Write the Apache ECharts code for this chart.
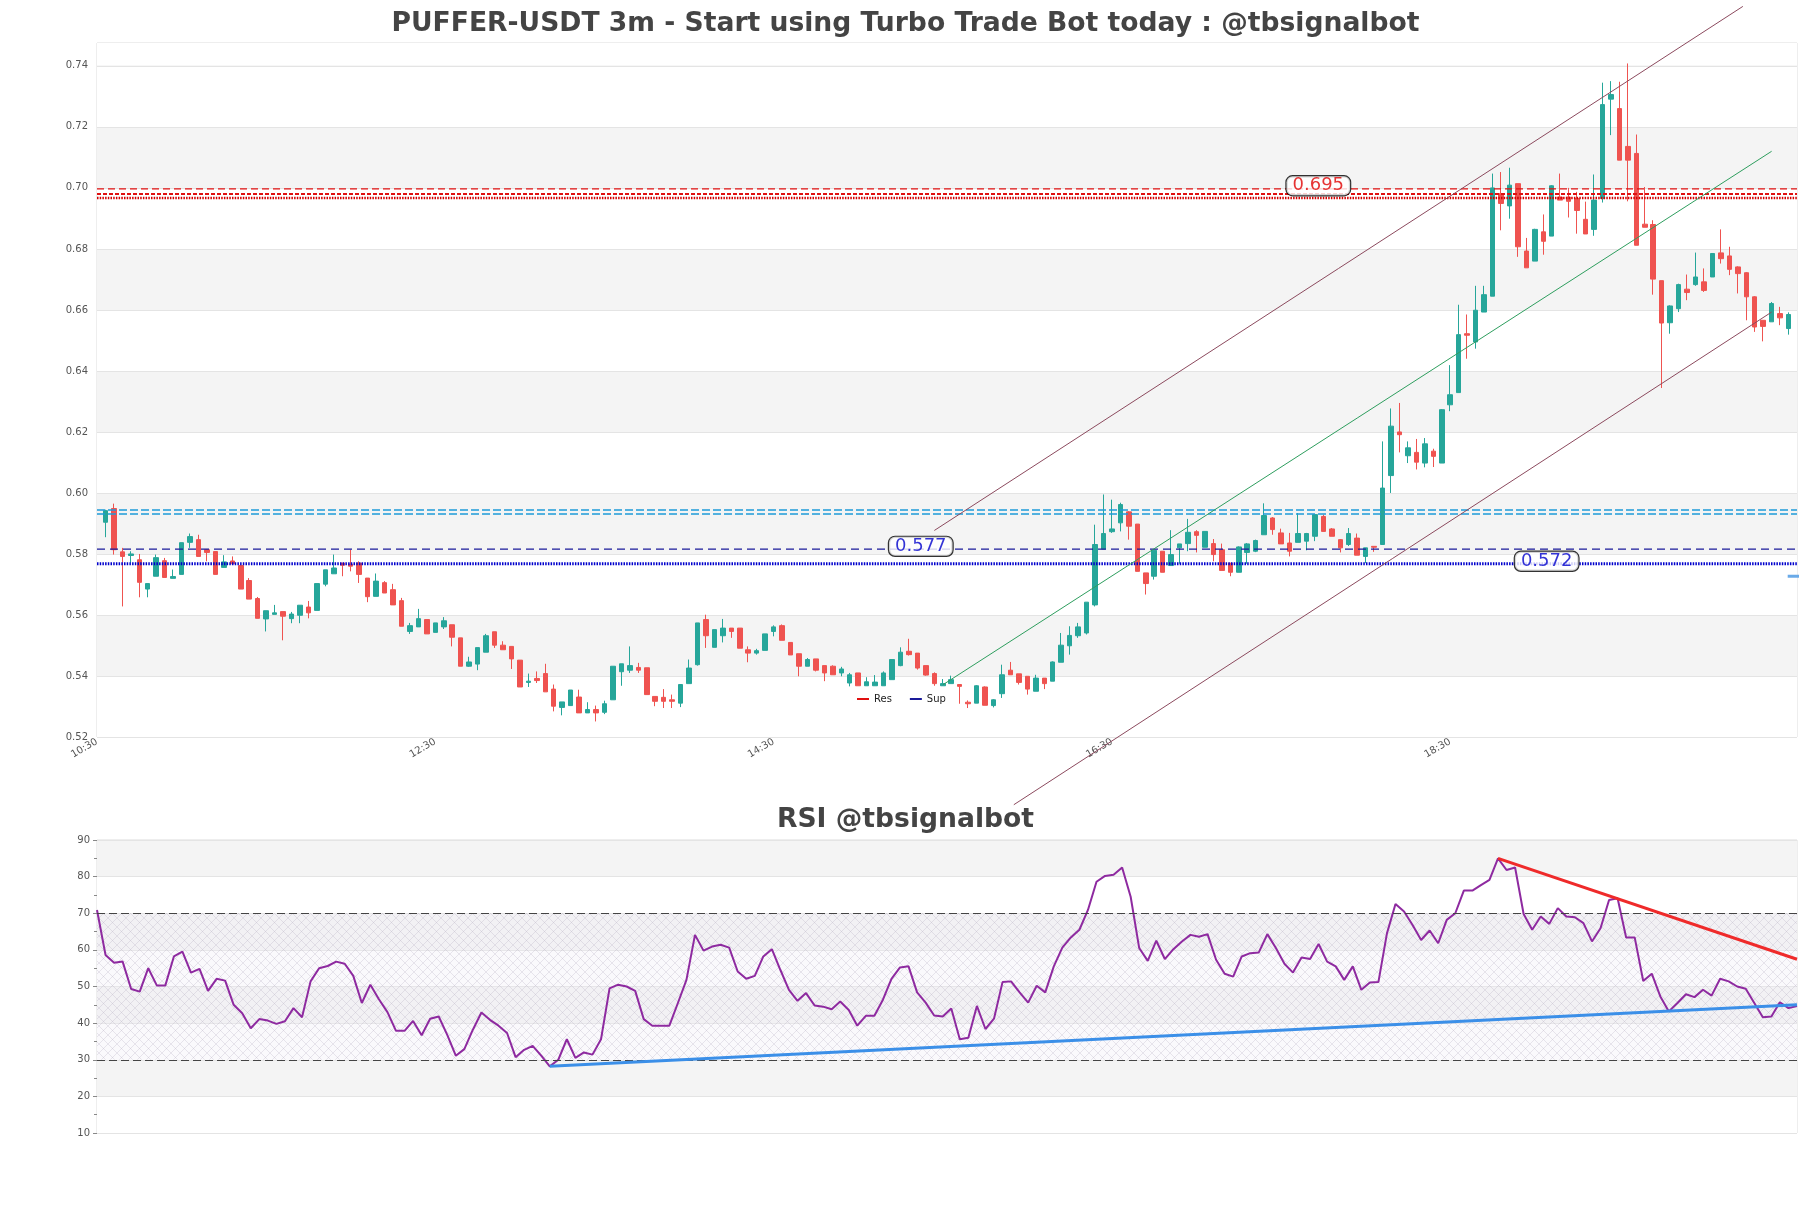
<!DOCTYPE html>
<html>
<head>
<meta charset="utf-8">
<script src="https://cdn.jsdelivr.net/npm/echarts@6/dist/echarts.min.js"></script>
<style>
  html, body { margin: 0; padding: 0; background: #fff; }
  #chart { width: 1811px; height: 1208px; }
</style>
</head>
<body>
<div id="chart"></div>
<script>
// 蜡烛数据 (3m, 从 10:33 开始)
let opens = [0.5904,0.5949,0.5807,0.5795,0.5781,0.5685,0.5727,0.5778,0.5720,0.5733,
  0.5838,0.5847,0.5814,0.5808,0.5756,0.5777,0.5762,0.5713,0.5654,0.5587,
  0.5602,0.5611,0.5588,0.5599,0.5626,0.5615,0.5701,0.5735,0.5770,0.5767,
  0.5770,0.5721,0.5661,0.5706,0.5683,0.5647,0.5546,0.5561,0.5585,0.5543,
  0.5561,0.5568,0.5525,0.5432,0.5439,0.5478,0.5545,0.5501,0.5497,0.5452,
  0.5379,0.5392,0.5408,0.5357,0.5297,0.5303,0.5331,0.5279,0.5290,0.5281,
  0.5322,0.5414,0.5419,0.5428,0.5427,0.5333,0.5330,0.5322,0.5311,0.5375,
  0.5437,0.5585,0.5494,0.5532,0.5557,0.5557,0.5486,0.5475,0.5484,0.5546,
  0.5565,0.5510,0.5473,0.5432,0.5456,0.5434,0.5432,0.5410,0.5377,0.5410,
  0.5368,0.5368,0.5368,0.5388,0.5434,0.5481,0.5475,0.5434,0.5408,0.5368,
  0.5375,0.5372,0.5314,0.5311,0.5364,0.5303,0.5342,0.5419,0.5407,0.5399,
  0.5350,0.5393,0.5383,0.5445,0.5499,0.5532,0.5541,0.5633,0.5816,0.5873,
  0.5902,0.5938,0.5898,0.5738,0.5727,0.5809,0.5762,0.5820,0.5834,0.5873,
  0.5822,0.5834,0.5814,0.5770,0.5740,0.5805,0.5809,0.5863,0.5918,0.5869,
  0.5836,0.5838,0.5842,0.5858,0.5923,0.5882,0.5847,0.5831,0.5852,0.5792,
  0.5825,0.5831,0.6057,0.6200,0.6122,0.6133,0.6098,0.6137,0.6098,0.6289,
  0.6329,0.6522,0.6495,0.6593,0.6645,0.6981,0.6941,0.7014,0.6793,0.6760,
  0.6856,0.6842,0.6970,0.6970,0.6965,0.6897,0.6864,0.6965,0.7291,0.7260,
  0.7136,0.7113,0.6881,0.6880,0.6696,0.6558,0.6604,0.6668,0.6683,0.6692,
  0.6708,0.6787,0.6777,0.6741,0.6722,0.6643,0.6566,0.6561,0.6588,0.6539];
let closes = [0.5942,0.5814,0.5792,0.5800,0.5707,0.5703,0.5788,0.5723,0.5726,0.5837,
  0.5857,0.5792,0.5805,0.5733,0.5774,0.5768,0.5685,0.5652,0.5589,0.5614,
  0.5607,0.5596,0.5603,0.5632,0.5607,0.5703,0.5748,0.5754,0.5763,0.5760,
  0.5733,0.5660,0.5711,0.5672,0.5633,0.5563,0.5565,0.5588,0.5538,0.5574,
  0.5581,0.5527,0.5432,0.5446,0.5493,0.5532,0.5501,0.5486,0.5456,0.5364,
  0.5383,0.5385,0.5348,0.5301,0.5315,0.5354,0.5279,0.5290,0.5279,0.5309,
  0.5432,0.5440,0.5434,0.5419,0.5339,0.5317,0.5317,0.5317,0.5372,0.5426,
  0.5574,0.5532,0.5552,0.5557,0.5546,0.5491,0.5475,0.5483,0.5538,0.5561,
  0.5517,0.5469,0.5432,0.5454,0.5419,0.5410,0.5404,0.5423,0.5404,0.5368,
  0.5381,0.5380,0.5410,0.5454,0.5478,0.5470,0.5426,0.5403,0.5375,0.5375,
  0.5388,0.5366,0.5309,0.5368,0.5304,0.5322,0.5404,0.5404,0.5379,0.5357,
  0.5393,0.5375,0.5446,0.5501,0.5533,0.5561,0.5642,0.5831,0.5867,0.5882,
  0.5962,0.5891,0.5743,0.5703,0.5812,0.5740,0.5798,0.5833,0.5871,0.5861,
  0.5874,0.5798,0.5746,0.5740,0.5823,0.5833,0.5844,0.5926,0.5880,0.5833,
  0.5809,0.5867,0.5867,0.5929,0.5874,0.5858,0.5820,0.5867,0.5796,0.5820,
  0.5822,0.6016,0.6219,0.6191,0.6148,0.6101,0.6161,0.6120,0.6273,0.6322,
  0.6519,0.6517,0.6599,0.6650,0.7000,0.6949,0.7009,0.6807,0.6738,0.6864,
  0.6825,0.7007,0.6960,0.6956,0.6926,0.6849,0.6960,0.7273,0.7306,0.7091,
  0.7091,0.6812,0.6871,0.6701,0.6557,0.6613,0.6683,0.6657,0.6708,0.6664,
  0.6785,0.6768,0.6733,0.6719,0.6643,0.6544,0.6546,0.6621,0.6574,0.6585];
let lows = [0.5855,0.5798,0.5628,0.5771,0.5658,0.5658,0.5727,0.5723,0.5720,0.5733,
  0.5820,0.5792,0.5776,0.5733,0.5756,0.5768,0.5685,0.5652,0.5589,0.5546,
  0.5602,0.5517,0.5573,0.5573,0.5589,0.5615,0.5694,0.5735,0.5727,0.5743,
  0.5705,0.5642,0.5661,0.5672,0.5633,0.5563,0.5538,0.5561,0.5538,0.5543,
  0.5554,0.5497,0.5432,0.5430,0.5419,0.5478,0.5492,0.5486,0.5423,0.5364,
  0.5364,0.5377,0.5348,0.5284,0.5271,0.5303,0.5279,0.5279,0.5251,0.5275,
  0.5322,0.5368,0.5410,0.5410,0.5339,0.5301,0.5295,0.5295,0.5298,0.5375,
  0.5434,0.5492,0.5494,0.5510,0.5525,0.5491,0.5445,0.5470,0.5484,0.5530,
  0.5517,0.5469,0.5399,0.5432,0.5415,0.5383,0.5404,0.5399,0.5366,0.5368,
  0.5368,0.5368,0.5368,0.5388,0.5432,0.5467,0.5421,0.5401,0.5368,0.5368,
  0.5375,0.5309,0.5295,0.5311,0.5304,0.5297,0.5328,0.5404,0.5372,0.5339,
  0.5350,0.5357,0.5383,0.5445,0.5470,0.5525,0.5536,0.5628,0.5816,0.5869,
  0.5874,0.5847,0.5743,0.5667,0.5716,0.5740,0.5762,0.5768,0.5809,0.5805,
  0.5822,0.5776,0.5746,0.5727,0.5740,0.5768,0.5806,0.5863,0.5863,0.5833,
  0.5792,0.5838,0.5812,0.5842,0.5874,0.5858,0.5805,0.5826,0.5796,0.5770,
  0.5807,0.5831,0.6000,0.6133,0.6098,0.6077,0.6084,0.6085,0.6098,0.6268,
  0.6329,0.6440,0.6473,0.6593,0.6645,0.6861,0.6899,0.6774,0.6738,0.6760,
  0.6781,0.6842,0.6960,0.6903,0.6850,0.6849,0.6843,0.6952,0.7173,0.7091,
  0.6956,0.6812,0.6871,0.6650,0.6344,0.6522,0.6593,0.6632,0.6679,0.6659,
  0.6708,0.6752,0.6714,0.6654,0.6566,0.6528,0.6497,0.6561,0.6550,0.6519];
let highs = [0.5945,0.5965,0.5820,0.5809,0.5800,0.5703,0.5798,0.5787,0.5749,0.5837,
  0.5867,0.5863,0.5816,0.5808,0.5796,0.5792,0.5762,0.5721,0.5659,0.5614,
  0.5633,0.5611,0.5610,0.5632,0.5646,0.5703,0.5748,0.5798,0.5770,0.5814,
  0.5776,0.5721,0.5736,0.5711,0.5702,0.5656,0.5574,0.5620,0.5585,0.5574,
  0.5593,0.5568,0.5525,0.5463,0.5493,0.5538,0.5545,0.5514,0.5497,0.5452,
  0.5408,0.5415,0.5440,0.5372,0.5315,0.5354,0.5355,0.5314,0.5303,0.5319,
  0.5432,0.5440,0.5497,0.5443,0.5427,0.5333,0.5357,0.5339,0.5372,0.5454,
  0.5574,0.5601,0.5552,0.5587,0.5557,0.5557,0.5497,0.5489,0.5538,0.5566,
  0.5569,0.5510,0.5473,0.5459,0.5456,0.5434,0.5435,0.5430,0.5410,0.5410,
  0.5396,0.5403,0.5415,0.5454,0.5494,0.5522,0.5475,0.5434,0.5412,0.5390,
  0.5401,0.5372,0.5320,0.5370,0.5366,0.5324,0.5437,0.5446,0.5407,0.5399,
  0.5404,0.5393,0.5448,0.5541,0.5563,0.5574,0.5642,0.5896,0.5995,0.5978,
  0.5968,0.5940,0.5898,0.5738,0.5816,0.5809,0.5878,0.5833,0.5915,0.5878,
  0.5874,0.5849,0.5834,0.5770,0.5825,0.5836,0.5847,0.5966,0.5921,0.5883,
  0.5869,0.5934,0.5869,0.5931,0.5929,0.5885,0.5849,0.5885,0.5867,0.5820,
  0.5825,0.6169,0.6277,0.6295,0.6169,0.6177,0.6180,0.6145,0.6275,0.6419,
  0.6617,0.6585,0.6679,0.6679,0.7047,0.7052,0.7066,0.7014,0.6836,0.6866,
  0.6913,0.7009,0.7047,0.7000,0.6987,0.6955,0.7044,0.7345,0.7350,0.7348,
  0.7408,0.7175,0.7003,0.6894,0.6696,0.6615,0.6686,0.6716,0.6788,0.6736,
  0.6785,0.6864,0.6807,0.6743,0.6724,0.6645,0.6566,0.6626,0.6610,0.6592];

// RSI 数值
let rsiValues = [70.9,58.6,56.5,56.8,49.3,48.6,55.0,50.3,50.3,58.2,
  59.5,53.8,54.8,48.8,52.1,51.6,45.0,42.7,38.6,41.1,
  40.7,39.8,40.5,44.1,41.6,51.4,55.0,55.6,56.8,56.2,
  52.9,45.5,50.5,46.5,43.0,37.9,37.9,40.6,36.7,41.2,
  41.8,36.8,31.1,32.9,38.2,42.9,40.9,39.3,37.3,30.7,
  32.7,33.8,31.1,28.2,30.0,35.6,30.5,32.0,31.4,35.6,
  49.5,50.5,50.0,48.8,41.1,39.3,39.3,39.3,45.5,51.8,
  64.1,59.8,60.9,61.4,60.6,54.1,52.1,52.9,58.2,60.2,
  54.5,49.1,46.1,48.2,44.8,44.5,43.8,45.9,43.6,39.3,
  42.0,42.0,46.4,52.1,55.2,55.5,48.4,45.6,42.1,41.8,
  44.0,35.6,36.0,44.7,38.4,41.2,51.2,51.4,48.4,45.6,
  50.2,48.4,55.5,60.6,63.4,65.5,70.9,78.6,80.2,80.5,
  82.5,74.5,60.5,57.0,62.5,57.5,60.2,62.3,64.1,63.6,
  64.3,57.3,53.5,52.7,58.2,59.1,59.3,64.3,60.5,56.2,
  53.8,57.9,57.5,61.6,56.8,55.5,51.8,55.5,49.1,51.1,
  51.2,64.5,72.5,70.5,66.8,62.7,65.3,61.8,68.2,70.0,
  76.2,76.2,77.7,79.1,85.0,81.8,82.5,69.8,65.5,69.1,
  67.1,71.4,69.1,68.9,67.3,62.3,65.9,73.6,74.1,63.4,
  63.4,51.5,53.5,47.3,43.2,45.5,47.9,47.1,49.1,47.5,
  52.1,51.4,50.0,49.4,45.5,41.6,41.8,45.7,44.1,44.7];

// x 轴刻度 (每 40 根一个)
let tickLabels = ['10:30', '12:30', '14:30', '16:30', '18:30'];

// 水平支撑/阻力位
let resLines = [0.6997, 0.6980, 0.6967];
let cyanLines = [0.5944, 0.5931];
let supDashed = 0.5816;
let supDotted = 0.5768;
let projLine = [[199.9, 0.5727], [202.1, 0.5727]];

// 价格标签
let tagTexts = ['0.695', '0.577', '0.572'];
let tagX = [144.4, 97.4, 171.4];
let tagY = [0.7007, 0.5825, 0.5776];

// 通道线
let channelUpper = [[99, 0.5877], [194.6, 0.7595]];
let channelLower = [[108.4, 0.4978], [198, 0.6593]];
let channelMid = [[100, 0.5371], [198, 0.712]];

// RSI 趋势线
let rsiSupport = [[53, 28.2], [199, 45.0]];
let rsiResist = [[164, 85.0], [199, 57.45]];

let font = 'DejaVu Sans';

// 蜡烛 [x, open, close, low, high]
let candles = opens.map(function(o, i) {
  return [i + 1, o, closes[i], lows[i], highs[i]];
});
let rsiData = rsiValues.map(function(v, i) { return [i, v]; });

function hline(v, xmax) {
  return [[0, v], [xmax, v]];
}

// 交叉阴影图案
function hatch() {
  let c = document.createElement('canvas');
  c.width = 9;
  c.height = 9;
  let ctx = c.getContext('2d');
  ctx.fillStyle = 'rgba(240,236,244,0.3)';
  ctx.fillRect(0, 0, 9, 9);
  ctx.strokeStyle = 'rgba(170,160,180,0.35)';
  ctx.lineWidth = 0.7;
  ctx.beginPath();
  ctx.moveTo(0, 0); ctx.lineTo(9, 9);
  ctx.moveTo(9, 0); ctx.lineTo(0, 9);
  ctx.stroke();
  return c;
}

function lineSeries(name, data, color, width, type, extra) {
  let s = {
    name: name,
    type: 'line',
    data: data,
    symbol: 'none',
    silent: true,
    clip: false,
    lineStyle: { color: color, width: width, type: type },
    itemStyle: { color: color },
    z: 3
  };
  return Object.assign(s, extra || {});
}

let chartDom = document.getElementById('chart');
let mycharts = echarts.init(chartDom);
let option;

let tagData = tagTexts.map(function(t, i) {
  return {
    value: [tagX[i], tagY[i], t],
    label: { color: i === 0 ? '#e00000' : '#0000cc' }
  };
});

let series = [
  {
    name: 'price',
    type: 'candlestick',
    data: candles,
    encode: { x: 0, y: [1, 2, 3, 4] },
    barWidth: 5,
    itemStyle: {
      color: '#26a69a',
      color0: '#ef5350',
      borderColor: '#26a69a',
      borderColor0: '#ef5350',
      borderWidth: 1
    },
    z: 2,
    // 顶部空白带
    markArea: {
      silent: true,
      itemStyle: { color: '#fff' },
      data: [[{ yAxis: 0.7402 }, { yAxis: 0.7475 }]]
    }
  },
  lineSeries('Res', hline(resLines[0], 201), '#e01010', 1.3, [7, 4]),
  lineSeries('res2', hline(resLines[1], 201), '#e01010', 2, [4, 2]),
  lineSeries('res3', hline(resLines[2], 201), '#d40000', 2.5, [1.5, 1.2]),
  lineSeries('cy1', hline(cyanLines[0], 201), '#1e9ad8', 1.5, [8, 3]),
  lineSeries('cy2', hline(cyanLines[1], 201), '#1e9ad8', 1.5, [8, 3]),
  lineSeries('Sup', hline(supDashed, 201), '#1a1a9a', 1.3, [8, 5]),
  lineSeries('sup2', hline(supDotted, 201), '#0000cc', 2.8, [1.5, 1.2]),
  lineSeries('proj', projLine, '#6aaae8', 3, 'solid'),
  lineSeries('chUp', channelUpper, '#8c4a5e', 1, 'solid'),
  lineSeries('chLow', channelLower, '#8c4a5e', 1, 'solid'),
  lineSeries('chMid', channelMid, '#2e9e5e', 1, 'solid'),
  {
    name: 'tags',
    type: 'scatter',
    data: tagData,
    symbolSize: 0,
    silent: true,
    z: 10,
    label: {
      show: true,
      position: 'inside',
      formatter: function(p) { return p.value[2]; },
      fontFamily: font,
      fontSize: 18,
      backgroundColor: '#fff',
      borderColor: '#000',
      borderWidth: 1.2,
      borderRadius: 6,
      padding: [1, 6, 0, 6]
    }
  },
  {
    name: 'RSI',
    type: 'line',
    xAxisIndex: 1,
    yAxisIndex: 1,
    data: rsiData,
    symbol: 'none',
    lineStyle: { color: '#8e2aa0', width: 2 },
    z: 4,
    markArea: {
      silent: true,
      itemStyle: { color: { image: hatch(), repeat: 'repeat' } },
      data: [[{ yAxis: 30 }, { yAxis: 70 }]]
    },
    markLine: {
      silent: true,
      symbol: 'none',
      label: { show: false },
      lineStyle: { color: '#444', type: [8, 4], width: 1.2 },
      data: [{ yAxis: 70 }, { yAxis: 30 }]
    }
  },
  lineSeries('rsiSup', rsiSupport, '#3b8fe8', 3, 'solid', { xAxisIndex: 1, yAxisIndex: 1, clip: true, z: 5 }),
  lineSeries('rsiRes', rsiResist, '#ef2a2a', 3, 'solid', { xAxisIndex: 1, yAxisIndex: 1, clip: true, z: 5 })
];

option = {
  animation: false,
  backgroundColor: '#fff',
  title: [
    {
      text: 'PUFFER-USDT 3m - Start using Turbo Trade Bot today : @tbsignalbot',
      left: 'center',
      top: 6,
      textStyle: { fontFamily: font, fontSize: 26.6, fontWeight: 'bold', color: '#444' }
    },
    {
      text: 'RSI @tbsignalbot',
      left: 'center',
      top: 802,
      textStyle: { fontFamily: font, fontSize: 26.6, fontWeight: 'bold', color: '#444' }
    }
  ],
  legend: {
    data: ['Res', 'Sup'],
    left: 852,
    top: 689,
    icon: 'rect',
    itemWidth: 12,
    itemHeight: 2,
    itemGap: 18,
    textStyle: { fontFamily: font, fontSize: 10, color: '#222' }
  },
  grid: [
    { left: 97, right: 14, top: 43, height: 694, show: true, borderColor: '#ddd', borderWidth: 1 },
    { left: 97, right: 14, top: 840, height: 293, show: true, borderColor: '#ddd', borderWidth: 1 }
  ],
  xAxis: [
    {
      type: 'value',
      gridIndex: 0,
      min: 0,
      max: 201,
      interval: 40,
      axisLine: { show: false },
      axisTick: { show: false },
      splitLine: { show: false },
      axisLabel: {
        rotate: 30,
        margin: 4,
        fontFamily: font,
        fontSize: 10,
        color: '#555',
        showMaxLabel: false,
        formatter: function(v) { return tickLabels[v / 40] || ''; }
      }
    },
    {
      type: 'value',
      gridIndex: 1,
      min: 0,
      max: rsiValues.length - 1,
      show: false,
      splitLine: { show: false }
    }
  ],
  yAxis: [
    {
      type: 'value',
      gridIndex: 0,
      min: 0.52,
      max: 0.7475,
      interval: 0.02,
      axisLine: { show: false },
      axisTick: { show: false },
      splitLine: { lineStyle: { color: '#e4e4e4' } },
      splitArea: { show: true, areaStyle: { color: ['#ffffff', '#f4f4f4'] } },
      axisLabel: {
        margin: 9,
        fontFamily: font,
        fontSize: 10,
        color: '#555',
        showMaxLabel: false,
        formatter: function(v) { return v.toFixed(2); }
      }
    },
    {
      type: 'value',
      gridIndex: 1,
      min: 10,
      max: 90,
      interval: 10,
      axisLine: { show: false },
      axisTick: { show: true, inside: false, length: 4, lineStyle: { color: '#888' } },
      minorTick: { show: true, splitNumber: 2, length: 3, lineStyle: { color: '#888' } },
      splitLine: { lineStyle: { color: '#e4e4e4' } },
      splitArea: { show: true, areaStyle: { color: ['#ffffff', '#f4f4f4'] } },
      axisLabel: {
        margin: 7,
        fontFamily: font,
        fontSize: 10,
        color: '#555'
      }
    }
  ],
  series: series
};

option && mycharts.setOption(option);
</script>
</body>
</html>
